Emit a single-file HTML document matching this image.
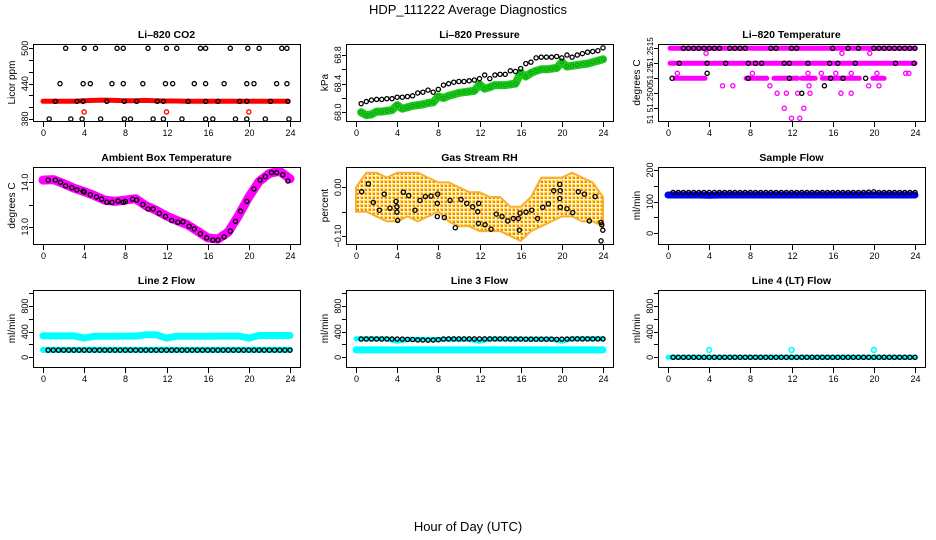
<!DOCTYPE html>
<html><head><meta charset="utf-8"><style>
html,body{margin:0;padding:0;background:#fff;}
svg{display:block;font-family:"Liberation Sans",Arial,sans-serif;}
</style></head><body>
<svg id="chart" width="936" height="540" viewBox="0 0 936 540">
<defs>
<pattern id="rhpat" width="4" height="4" patternUnits="userSpaceOnUse">
<rect width="4" height="4" fill="#fff6c0"/><rect width="3" height="3" fill="#ffd84a"/><rect x="1" y="1" width="2" height="2" fill="#f08010"/>
</pattern>
</defs>
<text x="468" y="14" text-anchor="middle" font-size="13">HDP_111222  Average Diagnostics</text>
<text x="468" y="531" text-anchor="middle" font-size="13">Hour of Day (UTC)</text>
</svg>
<script>
const H48 = [0.5,1,1.5,2,2.5,3,3.5,4,4.5,5,5.5,6,6.5,7,7.5,8,8.5,9,9.5,10,10.5,11,11.5,12,12.5,13,13.5,14,14.5,15,15.5,16,16.5,17,17.5,18,18.5,19,19.5,20,20.5,21,21.5,22,22.5,23,23.5,24];
const H25 = [0,1,2,3,4,5,6,7,8,9,10,11,12,13,14,15,16,17,18,19,20,21,22,23,24];
const xTicks = [0,4,8,12,16,20,24];

// CO2
const co2BlackHours = [0.6,1.2,1.65,2.2,2.7,3.3,3.8,3.9,3.9,4.0,4.6,5.1,5.6,6.2,6.7,7.2,7.8,7.8,7.9,7.9,8.5,9.1,9.7,10.2,10.7,11.1,11.7,11.7,11.9,12.0,12.6,13.0,13.5,14.1,14.7,15.3,15.8,15.8,15.8,15.8,16.5,17.0,17.6,18.2,18.7,19.1,19.8,19.8,19.8,19.9,20.5,21.0,21.6,22.1,22.7,23.2,23.7,23.7,23.8,23.9];
const co2BlackVals = [380,410,440,500,380,410,380,410,440,500,440,500,380,410,440,500,500,440,410,380,380,410,440,500,380,410,410,380,440,500,440,500,380,410,440,500,500,440,410,380,380,410,440,500,380,410,410,440,380,500,440,500,380,410,440,500,500,440,410,380];
const co2RedVals = [410,410,410,410,411,411.5,412,411.5,411,411,411.5,411,410.5,410.5,410,410,410,410,410,410,410,410,410,410,410];
const co2RedOutHours = [4,12,20];
const co2RedOutVals = [392,392,392];

// Pressure
const presBlack = [68.12,68.15,68.17,68.18,68.18,68.19,68.19,68.21,68.21,68.22,68.23,68.27,68.28,68.31,68.28,68.32,68.38,68.40,68.42,68.43,68.43,68.44,68.45,68.47,68.52,68.47,68.52,68.53,68.53,68.58,68.57,68.61,68.68,68.70,68.76,68.77,68.77,68.77,68.78,68.76,68.80,68.77,68.80,68.82,68.84,68.85,68.86,68.90];
const presGreen = [68.00,67.96,67.97,68.01,68.01,68.02,68.03,68.10,68.05,68.07,68.09,68.10,68.11,68.13,68.14,68.22,68.20,68.23,68.25,68.27,68.28,68.29,68.30,68.39,68.33,68.35,68.38,68.38,68.38,68.39,68.40,68.55,68.50,68.55,68.58,68.60,68.60,68.61,68.62,68.70,68.64,68.65,68.66,68.67,68.68,68.70,68.72,68.74];

// Li-820 Temperature
const tempSegStart = [0.2,0.2,0.7,7.6,10.3,13.0,15.0,19.9];
const tempSegEnd = [24,24,3.6,9.6,12.6,14.3,18.6,21.0];
const tempSegVal = [51.2515,51.2512,51.2509,51.2509,51.2509,51.2509,51.2509,51.2509];
const tempMagHours = [3.7,16.9,19.6,0.9,8.2,13.6,14.9,16.3,17.8,20.3,23.1,23.4,5.3,6.3,9.9,13.7,19.5,20.5,10.6,11.5,12.6,13.8,16.8,17.8,11.3,13.2,12.0,12.8];
const tempMagVals = [51.2514,51.2514,51.2514,51.2510,51.2510,51.2510,51.2510,51.2510,51.2510,51.2510,51.2510,51.2510,51.25075,51.25075,51.25075,51.25075,51.25075,51.25075,51.2506,51.2506,51.2506,51.2506,51.2506,51.2506,51.2503,51.2503,51.2501,51.2501];
const tempBlackHours = [1.5,2,2.5,3,3.5,4,4.5,5,6,6.5,7,7.5,10,10.5,12,12.5,16,17.5,18.5,20,20.5,21,21.5,22,22.5,23,23.5,24,1.1,3.8,5.6,7.8,8.5,9.1,11.3,11.8,13.6,15.7,16.5,18.2,22.1,23.9,3.8,0.4,7.8,11.8,15.8,17.0,19.2,15.2,13.0];
const tempBlackVals = [51.2515,51.2515,51.2515,51.2515,51.2515,51.2515,51.2515,51.2515,51.2515,51.2515,51.2515,51.2515,51.2515,51.2515,51.2515,51.2515,51.2515,51.2515,51.2515,51.2515,51.2515,51.2515,51.2515,51.2515,51.2515,51.2515,51.2515,51.2515,51.2512,51.2512,51.2512,51.2512,51.2512,51.2512,51.2512,51.2512,51.2512,51.2512,51.2512,51.2512,51.2512,51.2512,51.2510,51.2509,51.2509,51.2509,51.2509,51.2509,51.2509,51.25075,51.2506];
const tempLabelVals = [51.25143,51.25099,51.25051,51.25008];
const tempLabelText = ["51.2515","51.25","51.2500","51"];

// Ambient
const ambBlackHours = [0.5,1.2,1.7,2.2,2.8,3.3,3.9,4.0,4.6,5.2,5.7,6.2,6.7,7.3,7.8,8.0,8.7,9.1,9.7,10.2,10.7,11.3,11.9,12.5,13.1,13.6,14.2,14.7,15.3,15.9,16.5,17.0,17.6,18.2,18.7,19.2,19.8,20.5,21.1,21.6,22.2,22.7,23.3,23.8];
const ambBlackVals = [14.05,14.05,14.0,13.92,13.88,13.83,13.8,13.78,13.72,13.67,13.62,13.55,13.55,13.58,13.55,13.57,13.62,13.6,13.5,13.4,13.4,13.3,13.23,13.14,13.1,13.11,13.01,12.95,12.84,12.75,12.7,12.7,12.77,12.9,13.12,13.35,13.57,13.85,14.05,14.13,14.22,14.22,14.17,14.03];
const ambMagVals = [14.05,14.06,13.97,13.87,13.79,13.7,13.6,13.57,13.6,13.63,13.47,13.37,13.24,13.14,13.05,12.9,12.75,12.72,12.88,13.25,13.67,14.02,14.2,14.25,14.08];

// Gas stream RH
const rhUpper = [0.00,0.03,0.03,0.02,0.03,0.03,0.03,0.02,0.01,0.01,0.00,-0.01,-0.01,-0.02,-0.02,-0.04,-0.04,-0.02,0.02,0.02,0.02,0.03,0.02,0.01,-0.02];
const rhLower = [-0.05,-0.05,-0.06,-0.07,-0.07,-0.06,-0.07,-0.06,-0.05,-0.07,-0.08,-0.08,-0.09,-0.09,-0.09,-0.10,-0.11,-0.09,-0.08,-0.07,-0.06,-0.06,-0.07,-0.07,-0.08];
const rhBlackHours = [0.55,1.2,1.68,2.27,2.75,3.3,3.89,3.98,3.98,4.05,4.6,5.12,5.73,6.22,6.74,7.29,7.94,7.9,7.9,8.58,9.14,9.65,10.2,10.76,11.34,11.83,11.92,11.9,12.54,13.12,13.64,14.19,14.74,15.29,15.77,15.87,15.94,16.52,17.07,17.65,18.14,18.69,19.21,19.8,19.85,19.8,19.85,20.5,21.06,21.6,22.2,22.67,23.23,23.81,23.88,23.98,23.81];
const rhBlackVals = [-0.009,0.007,-0.031,-0.047,-0.014,-0.043,-0.029,-0.040,-0.051,-0.068,-0.010,-0.017,-0.047,-0.027,-0.019,-0.018,-0.014,-0.033,-0.060,-0.062,-0.027,-0.083,-0.025,-0.033,-0.040,-0.050,-0.033,-0.074,-0.077,-0.086,-0.055,-0.060,-0.069,-0.064,-0.064,-0.088,-0.053,-0.051,-0.047,-0.064,-0.041,-0.034,-0.007,0.006,-0.007,-0.023,-0.041,-0.044,-0.052,-0.009,-0.014,-0.069,-0.019,-0.072,-0.077,-0.088,-0.110];

// Flows
const sampleBlue = [121,121,121,121,120,121,121,121,121,121,121,121,121,121,121,121,121,121,121,121,121,121,121,121,121];
const sampleBlack = [129,129,129,129,129,129,129,129,129,129,129,129,129,129,129,129,129,129,129,129,129,129,129,129,129,129,129,129,129,129,129,129,129,129,129,129,129,129,130,131,129,129,129,129,129,129,129,129];
const line2CyanHi = [335,335,335,335,300,330,330,330,332,332,352,352,300,330,330,330,330,332,332,332,300,340,340,340,340];
const line2CyanLo = [115,115,115,115,115,115,115,115,115,115,115,115,115,115,115,115,115,115,115,115,115,115,115,115,115];
const line2Black = [112,112,112,112,112,112,112,112,112,112,112,112,112,112,112,112,112,112,112,112,112,112,112,112,112,112,112,112,112,112,112,112,112,112,112,112,112,112,112,112,112,112,112,112,112,112,112,112];
const line3CyanHi = [290,290,290,290,250,280,280,280,280,280,280,280,250,285,285,285,285,285,285,285,250,290,290,290,290];
const line3CyanLo = [115,115,115,115,115,115,115,115,115,115,115,115,115,115,115,115,115,115,115,115,115,115,115,115,115];
const line3Black = [285,285,285,285,285,285,285,285,283,280,278,272,270,268,270,275,285,287,287,287,287,287,287,287,287,287,287,287,287,285,285,285,283,283,283,283,283,283,280,283,285,287,287,287,287,287,287,287];
const line4Cyan = [0,0,0,0,0,0,0,0,0,0,0,0,0,0,0,0,0,0,0,0,0,0,0,0,0];
const line4CyanOutHours = [4,12,20];
const line4CyanOutVals = [115,115,115];
const line4Black = [0,0,0,0,0,0,0,0,0,0,0,0,0,0,0,0,0,0,0,0,0,0,0,0,0,0,0,0,0,0,0,0,0,0,0,0,0,0,0,0,0,0,0,0,0,0,0,0];

const NS = "http://www.w3.org/2000/svg";
const svg = document.getElementById('chart');
const colLeft = [33,346,658], rowTop = [44,167,290], PW = 267, PH = 77;

function mk(tag, attrs, parent){
  const e = document.createElementNS(NS, tag);
  for (const k in attrs) e.setAttribute(k, attrs[k]);
  (parent||svg).appendChild(e);
  return e;
}

function makePanel(col, row, title, ytitle, ymin, ymax, yticks, ylabVals, ylabText, key, labFont){
  const L = colLeft[col], T = rowTop[row], B = T + PH, R = L + PW;
  const g = mk('g', {});
  
  
  const sx = h => L + 10 + h * (247 / 24);
  const sy = v => B - (v - ymin) / (ymax - ymin) * PH;
  const clipId = 'clip-' + key;
  const cp = mk('clipPath', {id: clipId}, g);
  mk('rect', {x: L, y: T, width: PW, height: PH}, cp);
  const plot = mk('g', {'clip-path': 'url(#' + clipId + ')'}, g);
  
  
  const frame = mk('rect', {x: L + 0.5, y: T + 0.5, width: PW, height: PH, fill: 'none', stroke: '#000', 'stroke-width': 1}, g);
  
  
  const t = mk('text', {x: L + PW / 2, y: T - 6, 'text-anchor': 'middle', 'font-size': 10.5, 'font-weight': 'bold'}, g);
  t.textContent = title;
  
  
  const yt = mk('text', {x: L - 18, y: T + PH / 2, 'text-anchor': 'middle', 'font-size': 10, transform: 'rotate(-90 ' + (L - 18) + ' ' + (T + PH / 2) + ')'}, g);
  yt.textContent = ytitle;
  
  
  xTicks.forEach(h => {
    const x = Math.round(sx(h)) + 0.5;
    const tk = mk('line', {x1: x, x2: x, y1: B + 1, y2: B + 6, stroke: '#000'}, g);
    
    
    const lb = mk('text', {x: x, y: B + 15, 'text-anchor': 'middle', 'font-size': 9}, g);
    lb.textContent = h;
    
    
  });
  yticks.forEach(v => {
    const y = Math.round(sy(v)) + 0.5;
    const tk = mk('line', {x1: L - 4, x2: L, y1: y, y2: y, stroke: '#000'}, g);
    
    
  });
  ylabVals.forEach((v, i) => {
    const y = sy(v), x = L - 5;
    const lb = mk('text', {x: x, y: y, 'text-anchor': 'middle', 'font-size': labFont || 9, transform: 'rotate(-90 ' + x + ' ' + y + ')'}, g);
    lb.textContent = ylabText[i];
    
    
  });
  return {sx, sy, plot, key};
}

function pts(P, hours, vals, color, name, r, sw){
  hours.forEach((h, i) => {
    if (vals[i] === null) return;
    const c = mk('circle', {cx: P.sx(h), cy: P.sy(vals[i]), r: r || 2.1, fill: 'none', stroke: color, 'stroke-width': sw || 1.3}, P.plot);
    
    
  });
}
function band(P, hours, vals, color, name, w){
  const d = hours.map((h, i) => P.sx(h).toFixed(1) + ',' + P.sy(vals[i]).toFixed(1)).join(' ');
  const pl = mk('polyline', {points: d, fill: 'none', stroke: color, 'stroke-width': w, 'stroke-linejoin': 'round', 'stroke-linecap': 'round'}, P.plot);
  
  
}

// Panel 1: CO2
const p1 = makePanel(0, 0, 'Li\u2013820 CO2', 'Licor ppm', 376.6, 507.3, [380,400,420,440,460,480,500], [380,440,500], ['380','440','500'], 'co2');
band(p1, H25.map(h => h * 0.99), co2RedVals, '#ff0000', 'co2-red-series', 5);
pts(p1, co2RedOutHours, co2RedOutVals, '#ff0000', 'co2-red-outlier');
pts(p1, co2BlackHours, co2BlackVals, '#000', 'co2-black-point');

// Panel 2: Pressure
const p2 = makePanel(1, 0, 'Li\u2013820 Pressure', 'kPa', 67.878, 68.954, [68.0,68.2,68.4,68.6,68.8], [68.0,68.4,68.8], ['68.0','68.4','68.8'], 'pressure');
band(p2, H48, presGreen, '#19c819', 'pressure-green-series', 8);
pts(p2, H48, presGreen, '#0a8a0a', 'pressure-green-point', 1.8, 0.6);
pts(p2, H48, presBlack, '#000', 'pressure-black-point');

// Panel 3: Temperature
const p3 = makePanel(2, 0, 'Li\u2013820 Temperature', 'degrees C', 51.250046, 51.251586, [51.2503,51.2506,51.2509,51.2512,51.2515], tempLabelVals, tempLabelText, 'temperature', 8);
tempSegStart.forEach((s, i) => band(p3, [s, tempSegEnd[i]], [tempSegVal[i], tempSegVal[i]], '#ff00ff', 'temperature-magenta-band', 5));
pts(p3, tempMagHours, tempMagVals, '#ff00ff', 'temperature-magenta-point');
pts(p3, tempBlackHours, tempBlackVals, '#000', 'temperature-black-point');

// Panel 4: Ambient
const p4 = makePanel(0, 1, 'Ambient Box Temperature', 'degrees C', 12.61, 14.345, [13.0,13.5,14.0], [13.0,14.0], ['13.0','14.0'], 'ambient');
band(p4, H25, ambMagVals, '#ff00ff', 'ambient-magenta-series', 9);
pts(p4, ambBlackHours, ambBlackVals, '#000', 'ambient-black-point');

// Panel 5: RH
const p5 = makePanel(1, 1, 'Gas Stream RH', 'percent', -0.1164, 0.0417, [-0.10,-0.05,0.00], [-0.10,0.00], ['\u22120.10','0.00'], 'rh');
(function(){
  const top = H25.map((h, i) => p5.sx(h).toFixed(1) + ',' + p5.sy(rhUpper[i]).toFixed(1));
  const bot = H25.slice().reverse().map((h, j) => p5.sx(h).toFixed(1) + ',' + p5.sy(rhLower[H25.length - 1 - j]).toFixed(1));
  const pg = mk('polygon', {points: top.concat(bot).join(' '), fill: 'url(#rhpat)', stroke: '#f8b030', 'stroke-width': 2, 'stroke-linejoin': 'round'}, p5.plot);
  
  
})();
pts(p5, rhBlackHours, rhBlackVals, '#000', 'rh-black-point');

// Panel 6: Sample flow
const p6 = makePanel(2, 1, 'Sample Flow', 'ml/min', -33.8, 209.5, [0,50,100,150,200], [0,100,200], ['0','100','200'], 'sample-flow');
band(p6, H25, sampleBlue, '#0000ff', 'sample-flow-blue-series', 7);
pts(p6, H48, sampleBlack, '#000', 'sample-flow-black-point');

const flowTicks = [0,200,400,600,800,1000];
// Panel 7: Line 2
const p7 = makePanel(0, 2, 'Line 2 Flow', 'ml/min', -151.6, 1051.6, flowTicks, [0,400,800], ['0','400','800'], 'line2-flow');
band(p7, H25, line2CyanHi, '#00ffff', 'line2-cyan-high', 7);
band(p7, H25, line2CyanLo, '#00ffff', 'line2-cyan-low', 6);
pts(p7, H48, line2Black, '#000', 'line2-black-point');

// Panel 8: Line 3
const p8 = makePanel(1, 2, 'Line 3 Flow', 'ml/min', -151.6, 1051.6, flowTicks, [0,400,800], ['0','400','800'], 'line3-flow');
band(p8, H25, line3CyanHi, '#00ffff', 'line3-cyan-high', 5);
band(p8, H25, line3CyanLo, '#00ffff', 'line3-cyan-low', 7);
pts(p8, H48, line3Black, '#000', 'line3-black-point');

// Panel 9: Line 4
const p9 = makePanel(2, 2, 'Line 4 (LT) Flow', 'ml/min', -151.6, 1051.6, flowTicks, [0,400,800], ['0','400','800'], 'line4-flow');
band(p9, H25, line4Cyan, '#00ffff', 'line4-cyan-series', 5);
pts(p9, line4CyanOutHours, line4CyanOutVals, '#00ffff', 'line4-cyan-outlier', 2.4, 1.6);
pts(p9, H48, line4Black, '#000', 'line4-black-point');
</script>
</body></html>
